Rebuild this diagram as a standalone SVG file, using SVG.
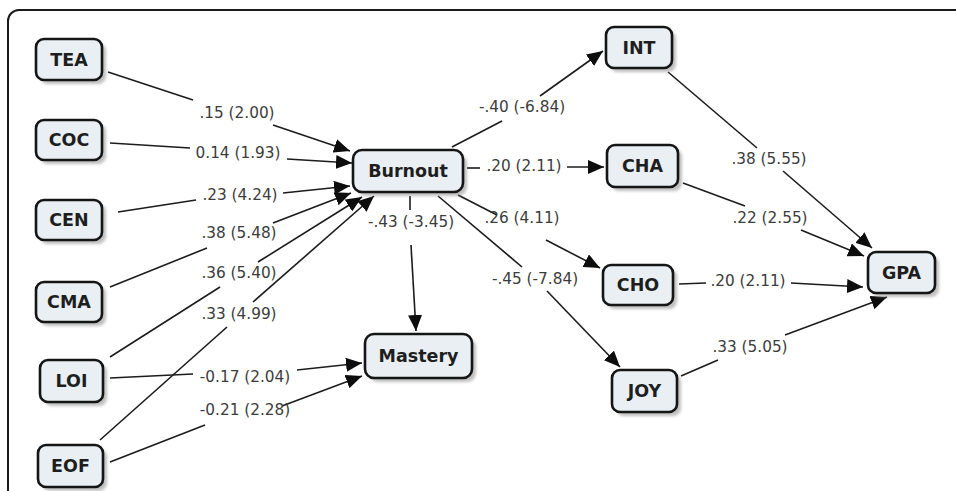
<svg xmlns="http://www.w3.org/2000/svg" width="956" height="491" viewBox="0 0 956 491">
<style>
.frame{fill:#fff;stroke:#1a1a1a;stroke-width:2}
.box{fill:#e9eff3;stroke:#151515;stroke-width:2.6}
.shadow{fill:#8a8a8a;opacity:0.55}
.nt{font-family:"DejaVu Sans",Verdana,sans-serif;font-weight:bold;font-size:17.5px;fill:#1e1e1e;text-anchor:middle;dominant-baseline:central}
.lt{font-family:"DejaVu Sans",Verdana,sans-serif;font-size:15.3px;fill:#3c3c3c;text-anchor:middle;dominant-baseline:central}
.ln{stroke:#1c1c1c;stroke-width:1.6;fill:none}
.ar{stroke:#1c1c1c;stroke-width:1.6;fill:none;marker-end:url(#ah)}
</style>
<defs>
<marker id="ah" markerUnits="userSpaceOnUse" markerWidth="18" markerHeight="14" refX="16" refY="7" orient="auto">
<path d="M0,0 L16,7 L0,14 z" fill="#0d0d0d"/>
</marker>
<filter id="sh" x="-20%" y="-20%" width="150%" height="160%">
<feGaussianBlur stdDeviation="1.6"/>
</filter>
</defs>
<rect class="frame" x="8" y="10" width="970" height="510" rx="11"/>
<g id="connectors">
<line class="ln" x1="108" y1="72" x2="193" y2="100"/><line class="ar" x1="273" y1="125" x2="350" y2="151"/>
<line class="ln" x1="110" y1="143" x2="190" y2="148"/><line class="ar" x1="287" y1="159" x2="352" y2="163"/>
<line class="ln" x1="118" y1="212" x2="196" y2="200"/><line class="ar" x1="283" y1="193" x2="350" y2="186"/>
<line class="ln" x1="110" y1="287" x2="207" y2="248"/><line class="ar" x1="273" y1="223" x2="351" y2="193"/>
<line class="ln" x1="110" y1="357" x2="220" y2="287"/><line class="ar" x1="258" y1="262" x2="362" y2="197"/>
<line class="ln" x1="100" y1="440" x2="227" y2="327"/><line class="ar" x1="253" y1="302" x2="374" y2="196"/>
<line class="ln" x1="110" y1="378" x2="193" y2="374"/><line class="ar" x1="297" y1="370" x2="362" y2="363"/>
<line class="ln" x1="110" y1="462" x2="205" y2="425"/><line class="ar" x1="282" y1="406" x2="362" y2="376"/>
<line class="ln" x1="410" y1="196" x2="410" y2="210"/><line class="ar" x1="411" y1="245" x2="416" y2="331"/>
<line class="ln" x1="452" y1="147" x2="502" y2="121"/><line class="ar" x1="540" y1="96" x2="603" y2="51"/>
<line class="ln" x1="467" y1="168" x2="480" y2="168"/><line class="ar" x1="567" y1="167" x2="604" y2="167"/>
<line class="ln" x1="458" y1="195" x2="497" y2="215"/><line class="ar" x1="546" y1="240" x2="600" y2="268"/>
<line class="ln" x1="438" y1="196" x2="522" y2="267"/><line class="ar" x1="547" y1="291" x2="620" y2="367"/>
<line class="ln" x1="668" y1="72" x2="757" y2="148"/><line class="ar" x1="783" y1="171" x2="872" y2="248"/>
<line class="ln" x1="683" y1="183" x2="745" y2="206"/><line class="ar" x1="801" y1="230" x2="864" y2="256"/>
<line class="ln" x1="679" y1="284" x2="706" y2="283"/><line class="ar" x1="791" y1="283" x2="863" y2="287"/>
<line class="ln" x1="681" y1="376" x2="718" y2="360"/><line class="ar" x1="785" y1="335" x2="887" y2="297"/>
<text class="lt" x="237" y="113">.15 (2.00)</text>
<text class="lt" x="238" y="153">0.14 (1.93)</text>
<text class="lt" x="240" y="195">.23 (4.24)</text>
<text class="lt" x="239" y="233">.38 (5.48)</text>
<text class="lt" x="239" y="273">.36 (5.40)</text>
<text class="lt" x="239" y="314">.33 (4.99)</text>
<text class="lt" x="245" y="377">-0.17 (2.04)</text>
<text class="lt" x="245" y="410">-0.21 (2.28)</text>
<text class="lt" x="522" y="107">-.40 (-6.84)</text>
<text class="lt" x="524" y="166">.20 (2.11)</text>
<text class="lt" x="411" y="222">-.43 (-3.45)</text>
<text class="lt" x="522" y="218">.26 (4.11)</text>
<text class="lt" x="535" y="279">-.45 (-7.84)</text>
<text class="lt" x="769" y="159">.38 (5.55)</text>
<text class="lt" x="770" y="218">.22 (2.55)</text>
<text class="lt" x="748" y="281">.20 (2.11)</text>
<text class="lt" x="750" y="347">.33 (5.05)</text>
</g>
<g id="TEA"><rect class="shadow" filter="url(#sh)" x="40" y="43" width="66" height="41" rx="8"/><rect class="box" x="36" y="39" width="66" height="41" rx="8"/><text class="nt" x="69" y="59.5">TEA</text></g>
<g id="COC"><rect class="shadow" filter="url(#sh)" x="40" y="124" width="66" height="40" rx="8"/><rect class="box" x="36" y="120" width="66" height="40" rx="8"/><text class="nt" x="69" y="140">COC</text></g>
<g id="CEN"><rect class="shadow" filter="url(#sh)" x="40" y="204" width="66" height="40" rx="8"/><rect class="box" x="36" y="200" width="66" height="40" rx="8"/><text class="nt" x="69" y="220">CEN</text></g>
<g id="CMA"><rect class="shadow" filter="url(#sh)" x="40" y="286" width="66" height="40" rx="8"/><rect class="box" x="36" y="282" width="66" height="40" rx="8"/><text class="nt" x="69" y="302">CMA</text></g>
<g id="LOI"><rect class="shadow" filter="url(#sh)" x="44" y="364" width="63" height="42" rx="8"/><rect class="box" x="40" y="360" width="63" height="42" rx="8"/><text class="nt" x="71.5" y="381">LOI</text></g>
<g id="EOF"><rect class="shadow" filter="url(#sh)" x="42" y="449" width="65" height="42" rx="8"/><rect class="box" x="38" y="445" width="65" height="42" rx="8"/><text class="nt" x="70.5" y="466">EOF</text></g>
<g id="Burnout"><rect class="shadow" filter="url(#sh)" x="357" y="154" width="110" height="42" rx="9"/><rect class="box" x="353" y="150" width="110" height="42" rx="9"/><text class="nt" x="408" y="171">Burnout</text></g>
<g id="Mastery"><rect class="shadow" filter="url(#sh)" x="369" y="338" width="107" height="44" rx="9"/><rect class="box" x="365" y="334" width="107" height="44" rx="9"/><text class="nt" x="418.5" y="356">Mastery</text></g>
<g id="INT"><rect class="shadow" filter="url(#sh)" x="610" y="31" width="66" height="41" rx="8"/><rect class="box" x="606" y="27" width="66" height="41" rx="8"/><text class="nt" x="639" y="47.5">INT</text></g>
<g id="CHA"><rect class="shadow" filter="url(#sh)" x="611" y="149" width="71" height="42" rx="8"/><rect class="box" x="607" y="145" width="71" height="42" rx="8"/><text class="nt" x="642.5" y="166">CHA</text></g>
<g id="CHO"><rect class="shadow" filter="url(#sh)" x="607" y="269" width="70" height="40" rx="8"/><rect class="box" x="603" y="265" width="70" height="40" rx="8"/><text class="nt" x="638" y="285">CHO</text></g>
<g id="JOY"><rect class="shadow" filter="url(#sh)" x="616" y="374" width="65" height="42" rx="8"/><rect class="box" x="612" y="370" width="65" height="42" rx="8"/><text class="nt" x="644.5" y="391">JOY</text></g>
<g id="GPA"><rect class="shadow" filter="url(#sh)" x="872" y="256" width="67" height="41" rx="8"/><rect class="box" x="868" y="252" width="67" height="41" rx="8"/><text class="nt" x="901.5" y="272.5">GPA</text></g>
</svg>
